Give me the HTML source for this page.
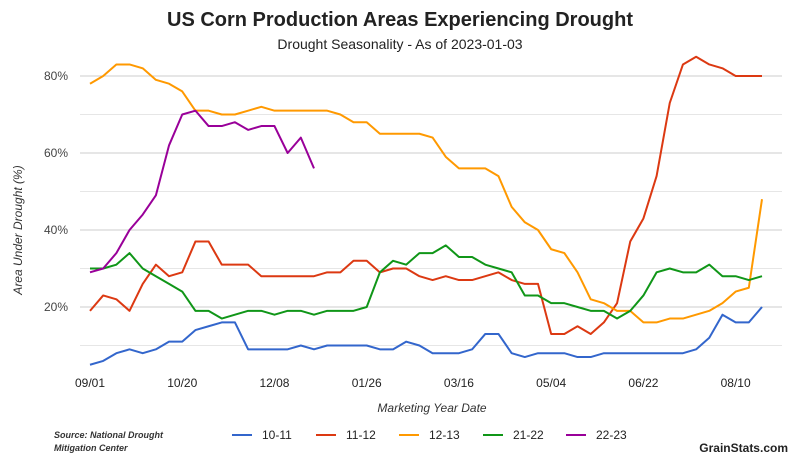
<!DOCTYPE html>
<html><head><meta charset="utf-8"><style>
body{margin:0;background:#fff;}
svg{display:block;font-family:"Liberation Sans",sans-serif;}
</style></head><body>
<svg id="chart" width="800" height="460">
<text x="400" y="26" text-anchor="middle" font-size="20" font-weight="bold" fill="#222">US Corn Production Areas Experiencing Drought</text>
<text x="400" y="49" text-anchor="middle" font-size="14" fill="#222">Drought Seasonality - As of 2023-01-03</text>
<g id="grid"></g><g id="ylabels"></g><g id="xlabels"></g><g id="series"></g>
<text transform="translate(22,230) rotate(-90)" text-anchor="middle" font-size="12" font-style="italic" fill="#333">Area Under Drought (%)</text>
<text x="432" y="412" text-anchor="middle" font-size="12" font-style="italic" fill="#333">Marketing Year Date</text>
<g id="legend"></g>
<text x="54" y="438" font-size="9" font-style="italic" font-weight="bold" fill="#333"><tspan x="54">Source: National Drought</tspan><tspan x="54" dy="13">Mitigation Center</tspan></text>
<text x="788" y="452" text-anchor="end" font-size="12" font-weight="bold" fill="#222">GrainStats.com</text>
</svg>
<script>
const yTicks=[20,40,60,80];
const gridVals=[10,20,30,40,50,60,70,80];
const xTickLabels=["09/01","10/20","12/08","01/26","03/16","05/04","06/22","08/10"];
const xTickWeeks=[0,7,14,21,28,35,42,49];
const seriesNames=["10-11","11-12","12-13","21-22","22-23"];
const seriesColors=["#3366cc","#dc3912","#ff9900","#109618","#990099"];
const s1011=[5,6,8,9,8,9,11,11,14,15,16,16,9,9,9,9,10,9,10,10,10,10,9,9,11,10,8,8,8,9,13,13,8,7,8,8,8,7,7,8,8,8,8,8,8,8,9,12,18,16,16,20];
const s1112=[19,23,22,19,26,31,28,29,37,37,31,31,31,28,28,28,28,28,29,29,32,32,29,30,30,28,27,28,27,27,28,29,27,26,26,13,13,15,13,16,21,37,43,54,73,83,85,83,82,80,80,80];
const s1213=[78,80,83,83,82,79,78,76,71,71,70,70,71,72,71,71,71,71,71,70,68,68,65,65,65,65,64,59,56,56,56,54,46,42,40,35,34,29,22,21,19,19,16,16,17,17,18,19,21,24,25,48];
const s2122=[30,30,31,34,30,28,26,24,19,19,17,18,19,19,18,19,19,18,19,19,19,20,29,32,31,34,34,36,33,33,31,30,29,23,23,21,21,20,19,19,17,19,23,29,30,29,29,31,28,28,27,28];
const s2223=[29,30,34,40,44,49,62,70,71,67,67,68,66,67,67,60,64,56];
const allSeries=[s1011,s1112,s1213,s2122,s2223];
const NS="http://www.w3.org/2000/svg";
const xs=w=>90+w*(672/51);
const ys=v=>384-v*3.85;
function mk(t,a,p){const e=document.createElementNS(NS,t);for(const k in a)e.setAttribute(k,a[k]);p.appendChild(e);return e;}
const grid=document.getElementById('grid');
gridVals.forEach(v=>{const l=mk('line',{x1:80,x2:782,y1:ys(v),y2:ys(v),stroke:v%20===0?'#ccc':'#e6e6e6','stroke-width':1},grid);

});
const yl=document.getElementById('ylabels');
yTicks.forEach(v=>{const t=mk('text',{x:68,y:ys(v)+4,'text-anchor':'end','font-size':12,fill:'#444'},yl);t.textContent=v+'%';

});
const xl=document.getElementById('xlabels');
xTickLabels.forEach((s,i)=>{const t=mk('text',{x:xs(xTickWeeks[i]),y:387,'text-anchor':'middle','font-size':12,fill:'#222'},xl);t.textContent=s;

});
const sg=document.getElementById('series');
allSeries.forEach((d,k)=>{const p=mk('polyline',{points:d.map((v,i)=>xs(i)+','+ys(v)).join(' '),fill:'none',stroke:seriesColors[k],'stroke-width':2,'stroke-linejoin':'round'},sg);

});
const lg=document.getElementById('legend');
const lx=[232,316,399,483,566];
seriesNames.forEach((n,k)=>{const g=mk('g',{},lg);


mk('line',{x1:lx[k],x2:lx[k]+20,y1:435,y2:435,stroke:seriesColors[k],'stroke-width':2},g);
const t=mk('text',{x:lx[k]+30,y:439,'font-size':12,fill:'#222'},g);t.textContent=n;});
</script>
</body></html>
